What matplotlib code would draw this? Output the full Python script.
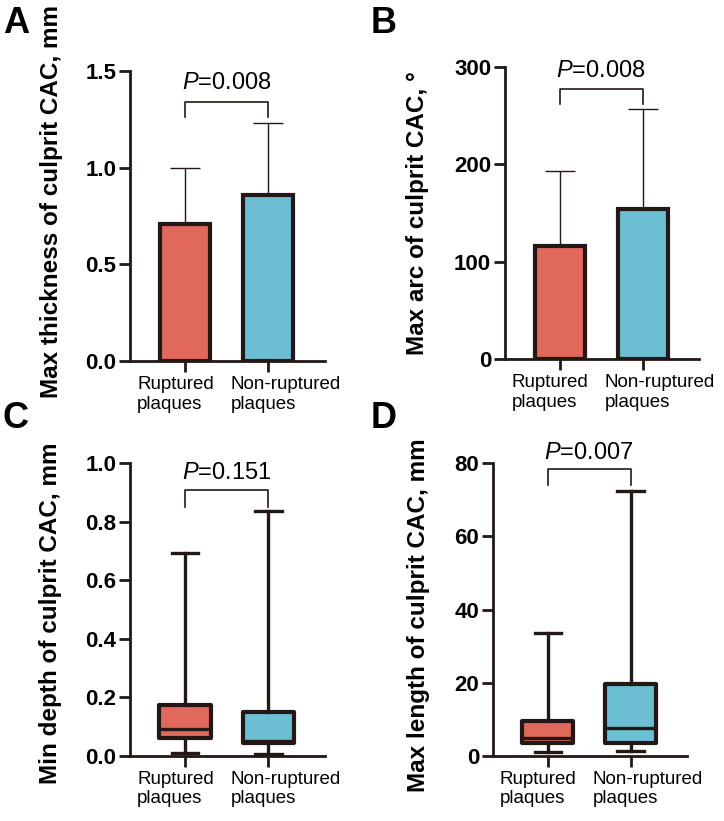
import matplotlib
matplotlib.use("Agg")
import matplotlib.pyplot as plt
import matplotlib.transforms as mtransforms

plt.rcParams['font.family'] = ['Liberation Sans', 'DejaVu Sans']
plt.rcParams['mathtext.fontset'] = 'custom'
plt.rcParams['mathtext.rm'] = 'Liberation Sans'
plt.rcParams['mathtext.it'] = 'Liberation Sans:italic'

# data
groups = ["Ruptured\nplaques", "Non-ruptured\nplaques"]
colors = ["#E0695B", "#6CBFD3"]
edge = "#231815"

# A: mean + SD
thick_mean = [0.71, 0.86]
thick_sd = [0.29, 0.37]
# B: mean + SD
arc_mean = [116, 154]
arc_sd = [77, 103]
# C: min / q1 / median / q3 / max
depth_stats = [[0.008, 0.059, 0.091, 0.173, 0.692],
               [0.006, 0.042, 0.050, 0.150, 0.837]]
# D
length_stats = [[1.1, 3.6, 4.8, 9.6, 33.7],
                [1.4, 3.4, 7.7, 19.6, 72.4]]
p_values = ["0.008", "0.008", "0.151", "0.007"]

fig = plt.figure(figsize=(7.24, 8.21), dpi=100)
axA = fig.add_axes([0.1796, 0.5603, 0.2693, 0.3532])
axB = fig.add_axes([0.6975, 0.5627, 0.2680, 0.3557])
axC = fig.add_axes([0.1796, 0.0795, 0.2693, 0.3562])
axD = fig.add_axes([0.6810, 0.0795, 0.2680, 0.3562])

x = [0, 1]
label_shift = [-48, -38]  # px, left edge of each category label relative to its tick


def style(ax, ylim, yticks, ylabel, fmt):
    ax.set_xlim(-0.66, 1.68)
    ax.set_ylim(*ylim)
    ax.set_yticks(yticks)
    ax.set_yticklabels([fmt.format(v) for v in yticks], fontweight='bold', fontsize=16)
    ax.set_xticks(x)
    ax.set_xticklabels([])
    # category labels, left-aligned blocks like the original
    for xi, g, dx in zip(x, groups, label_shift):
        tr = ax.get_xaxis_transform() + mtransforms.ScaledTranslation(dx / 100, -0.15, fig.dpi_scale_trans)
        ax.text(xi, 0, g, transform=tr, ha='left', va='top', fontsize=13.5,
                multialignment='left')
    for s in ['top', 'right']:
        ax.spines[s].set_visible(False)
    for s in ['left', 'bottom']:
        ax.spines[s].set_linewidth(2)
        ax.spines[s].set_color(edge)
    ax.tick_params(axis='both', width=2, length=8, color=edge)
    ax.tick_params(axis='y', pad=2)
    ax.set_ylabel(ylabel, fontweight='bold', fontsize=17.5)


def bracket(ax, y0, y1, ptxt, ty):
    ax.plot([0, 0, 1, 1], [y0, y1, y1, y0], color=edge, lw=1.2, clip_on=False)
    ax.text(0.5, ty, "$P$=" + ptxt, ha='center', va='center', fontsize=17)


# A
axA.bar(x, thick_mean, width=0.6, color=colors, edgecolor=edge, linewidth=3, zorder=3)
axA.errorbar(x, thick_mean, yerr=[[0, 0], thick_sd], fmt='none', ecolor=edge,
             elinewidth=1, capsize=11, capthick=1, zorder=2)
style(axA, (0, 1.5), [0.0, 0.5, 1.0, 1.5], "Max thickness of culprit CAC, mm", "{:.1f}")
bracket(axA, 1.262, 1.341, p_values[0], 1.438)
axA.yaxis.set_label_coords(-0.344, 0.55)

# B
axB.bar(x, arc_mean, width=0.6, color=colors, edgecolor=edge, linewidth=3, zorder=3)
axB.errorbar(x, arc_mean, yerr=[[0, 0], arc_sd], fmt='none', ecolor=edge,
             elinewidth=1, capsize=11, capthick=1, zorder=2)
style(axB, (0, 300), [0, 100, 200, 300], "Max arc of culprit CAC, \u00b0", "{:.0f}")
bracket(axB, 262, 277.7, p_values[1], 296)
axB.yaxis.set_label_coords(-0.39, 0.5)


def boxes(ax, stats_list):
    stats = []
    for s in stats_list:
        stats.append(dict(whislo=s[0], q1=s[1], med=s[2], q3=s[3], whishi=s[4], fliers=[]))
    bp = ax.bxp(stats, positions=x, widths=0.62, capwidths=0.32, patch_artist=True,
                showfliers=False,
                boxprops=dict(linewidth=3, edgecolor=edge),
                whiskerprops=dict(linewidth=2.4, color=edge),
                capprops=dict(linewidth=2.4, color=edge),
                medianprops=dict(linewidth=2.4, color=edge))
    for patch, c in zip(bp['boxes'], colors):
        patch.set_facecolor(c)
        patch.set_joinstyle('round')
    return bp


# C
boxes(axC, depth_stats)
style(axC, (0, 1.0), [0.0, 0.2, 0.4, 0.6, 0.8, 1.0], "Min depth of culprit CAC, mm", "{:.1f}")
bracket(axC, 0.852, 0.909, p_values[2], 0.967)
axC.yaxis.set_label_coords(-0.35, 0.486)

# D
boxes(axD, length_stats)
style(axD, (0, 80), [0, 20, 40, 60, 80], "Max length of culprit CAC, mm", "{:.0f}")
bracket(axD, 74.1, 78.4, p_values[3], 82.8)
axD.yaxis.set_label_coords(-0.325, 0.48)

for lab, xx, yy in [("A", 0.004, 0.993), ("B", 0.512, 0.993), ("C", 0.004, 0.512), ("D", 0.512, 0.512)]:
    fig.text(xx, yy, lab, fontsize=26, fontweight='bold', ha='left', va='top')

fig.savefig("out.png", dpi=100)
